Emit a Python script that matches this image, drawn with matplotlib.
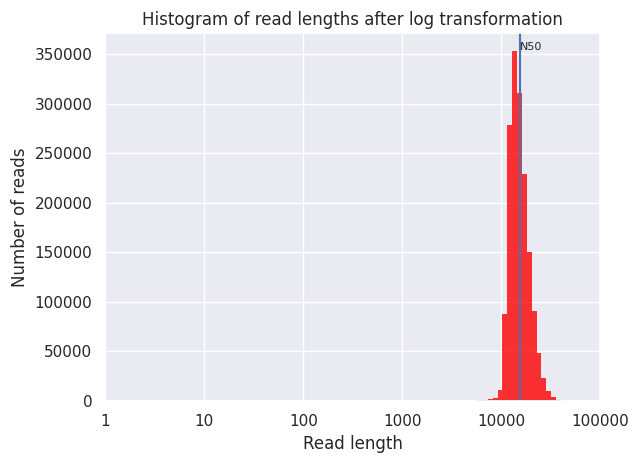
import numpy as np
import matplotlib
matplotlib.use("Agg")
import matplotlib.pyplot as plt
import seaborn as sns

# log10 read length bin edges and read counts per bin
bin_edges = [3.6684, 3.7177, 3.7670, 3.8163, 3.8656, 3.9149, 3.9642, 4.0135,
             4.0628, 4.1121, 4.1614, 4.2107, 4.2600, 4.3093, 4.3586, 4.4079,
             4.4572, 4.5065, 4.5558, 4.6051]
counts = [300, 400, 1000, 1200, 1500, 3000, 11100, 87750, 278400, 353500,
          311000, 229000, 150600, 90800, 48700, 23500, 10400, 4300, 1000]
n50 = 15500
tick_labels = ["1", "10", "100", "1000", "10000", "100000"]


def main():
    sns.set_theme(style="darkgrid")
    fig, ax = plt.subplots(figsize=(6.39, 4.63), dpi=100)

    ax.hist(bin_edges[:-1], bins=bin_edges, weights=counts,
            color="red", alpha=0.8, linewidth=0, edgecolor="none")
    ax.axvline(np.log10(n50), color="#4c72b0", linewidth=1.5)
    ax.set_xlim(0, 5)
    ymax = ax.get_ylim()[1]
    ax.annotate("N50", xy=(np.log10(n50), ymax * 0.955), fontsize=8)

    ax.set_xticks(range(len(tick_labels)))
    ax.set_xticklabels(tick_labels)
    ax.set_xlabel("Read length")
    ax.set_ylabel("Number of reads")
    ax.set_title("Histogram of read lengths after log transformation")

    fig.subplots_adjust(left=0.165, right=0.939, top=0.928, bottom=0.134)
    fig.savefig("out.png", dpi=100)
    plt.close(fig)


if __name__ == "__main__":
    main()
